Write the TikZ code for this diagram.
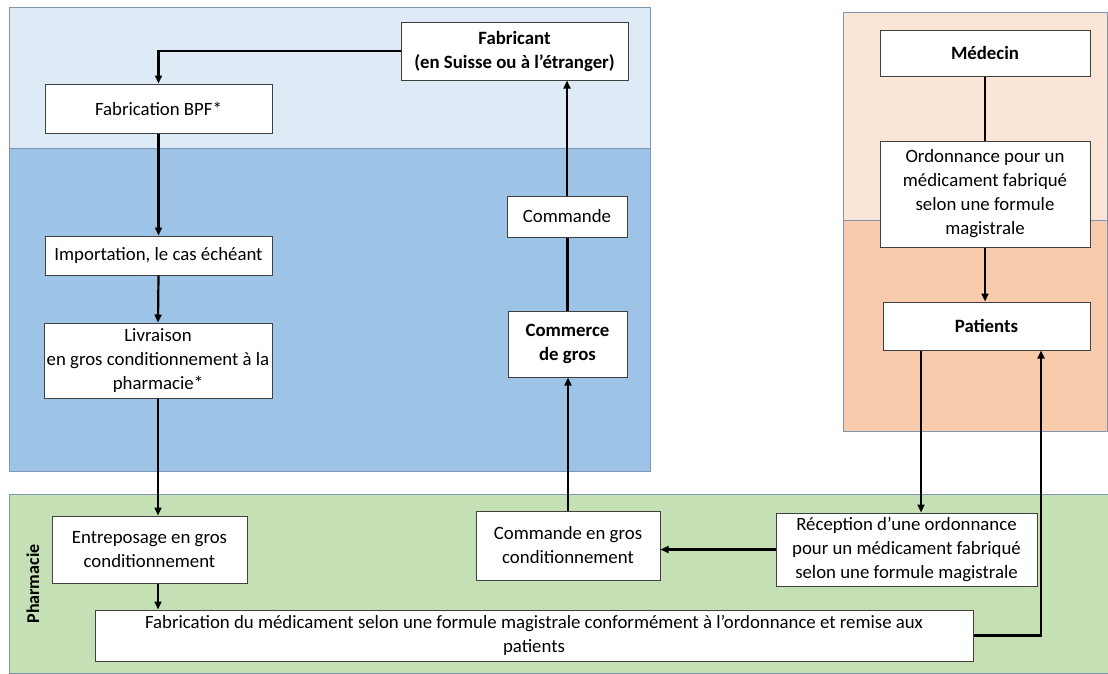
\documentclass[tikz,border=0pt]{standalone}
\usepackage{fontspec}
\setmainfont{Carlito}
\usetikzlibrary{arrows.meta}
\definecolor{bluelight}{HTML}{DEEBF7}
\definecolor{bluemid}{HTML}{9DC3E6}
\definecolor{orlight}{HTML}{FBE5D6}
\definecolor{ormid}{HTML}{F8CBAD}
\definecolor{greenbg}{HTML}{C5E0B4}
\definecolor{zoneline}{HTML}{7F96B2}
\definecolor{boxline}{HTML}{404040}
\tikzset{
  zone/.style={draw=zoneline, line width=0.8pt},
  box/.style={draw=boxline, fill=white, line width=1pt, align=center, inner sep=0.5pt,
    font=\fontsize{18.8}{24}\selectfont},
  arr/.style={line width=2.2pt, -{Triangle[length=8pt,width=7pt]}},
  ln/.style={line width=2.2pt}
}
\begin{document}
\begin{tikzpicture}[x=1pt,y=-1pt]
\useasboundingbox (0,0) rectangle (1108,673);
\fill[white] (0,0) rectangle (1108,673);
% zones
\filldraw[zone, fill=bluelight] (9,7) rectangle (650,148);
\filldraw[zone, fill=bluemid] (9,148) rectangle (650,471);
\filldraw[zone, fill=orlight] (843,12) rectangle (1107,220);
\filldraw[zone, fill=ormid] (843,220) rectangle (1107,431);
\filldraw[zone, fill=greenbg] (9,494) rectangle (1108,673);
\node[rotate=90, font=\fontsize{18}{20}\selectfont\bfseries] (ph) at (33,584) {Pharmacie};
% boxes
\node[box, minimum width=227, minimum height=58] (fab) at (514.5,51) {\textbf{Fabricant}\\\textbf{(en Suisse ou à l’étranger)}};
\node[box, minimum width=227, minimum height=49] (bpf) at (158.5,108.5) {Fabrication BPF*};
\node[box, minimum width=227, minimum height=39] (imp) at (158.5,255.5) {Importation, le cas échéant};
\node[box, minimum width=228, minimum height=75] (liv) at (158,360.5) {Livraison\\en gros conditionnement à la\\pharmacie*};
\node[box, minimum width=120, minimum height=41] (cmd) at (567,216.5) {Commande};
\node[box, minimum width=119, minimum height=66] (com) at (567.5,344) {\textbf{Commerce}\\\textbf{de gros}};
\node[box, minimum width=210, minimum height=46] (med) at (985,53) {\textbf{Médecin}};
\node[box, minimum width=210, minimum height=106] (ord) at (985,194) {Ordonnance pour un\\médicament fabriqué\\selon une formule\\magistrale};
\node[box, minimum width=207, minimum height=48] (pat) at (986.5,326) {\textbf{Patients}};
\node[box, minimum width=195, minimum height=67] (ent) at (149.5,549.5) {Entreposage en gros\\conditionnement};
\node[box, minimum width=184, minimum height=69] (cgr) at (568,545.5) {Commande en gros\\conditionnement};
\node[box, minimum width=261, minimum height=73] (rec) at (906.5,549.5) {Réception d’une ordonnance\\pour un médicament fabriqué\\selon une formule magistrale};
\node[box, minimum width=878, minimum height=51] (fmed) at (534,635.5) {Fabrication du médicament selon une formule magistrale conformément à l’ordonnance et remise aux\\patients};
% connectors
\draw[arr] (fab.west) -| (bpf.north);
\draw[arr] (bpf.south) -- (imp.north);
\draw[arr] (imp.south) -- (liv.north);
\draw[arr] (liv.south) -- (liv.south |- ent.north);
\draw[arr] (liv.south |- ent.south) -- (liv.south |- fmed.north);
\draw[arr] (cgr.north) -- (cgr.north |- com.south);
\draw[ln] (com.north) -- (com.north |- cmd.south);
\draw[arr] (cmd.north) -- (cmd.north |- fab.south);
\draw[ln] (med.south) -- (ord.north);
\draw[arr] (ord.south) -- (ord.south |- pat.north);
\draw[arr] ([xshift=-65.5pt]pat.south) -- ([xshift=-65.5pt]pat.south |- rec.north);
\draw[arr] (fmed.east) -| ([xshift=54.5pt]pat.south);
\draw[arr] (rec.west) -- (cgr.east |- rec.west);
\end{tikzpicture}
\end{document}
